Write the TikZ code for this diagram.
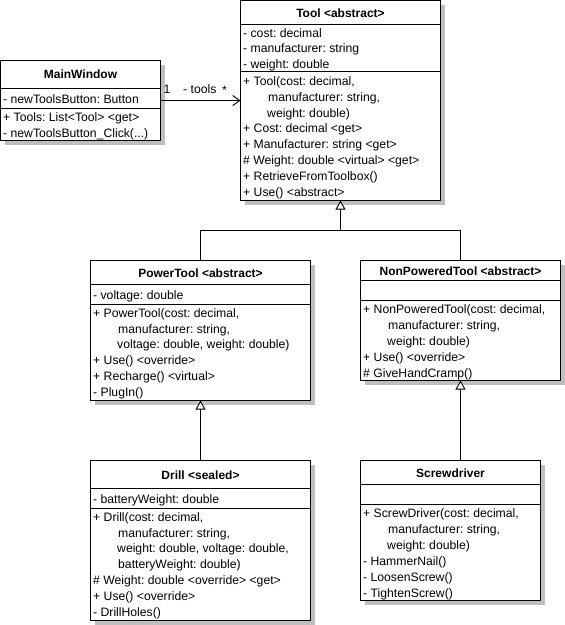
\documentclass[tikz,border=0pt]{standalone}
\usepackage{fontspec}
\setmainfont{Liberation Sans}
\frenchspacing
\usetikzlibrary{arrows.meta,shadows}
\tikzset{
  cls/.style={draw, line width=0.9pt, fill=white, inner sep=0pt, outer sep=0pt,
    drop shadow={shadow xshift=4pt, shadow yshift=-4pt, fill=gray!50, opacity=1}},
  ttl/.style={font=\fontsize{12}{14}\selectfont\bfseries\frenchspacing, inner sep=0pt, anchor=base},
  txt/.style={font=\fontsize{12.2}{14}\selectfont\frenchspacing, inner sep=0pt, anchor=base west},
  sep/.style={line width=0.9pt},
  assoc/.style={line width=0.9pt, -{Straight Barb[length=7pt,width=10pt,line width=0.9pt]}},
  gen/.style={line width=0.9pt, -{Triangle[open,length=9pt,width=10pt,fill=white,line width=0.9pt]}},
}
\begin{document}
\begin{tikzpicture}[x=1pt,y=-1pt]
\useasboundingbox (0,0) rectangle (565,625);

% ---------- boxes ----------
\node[cls, minimum width=160pt, minimum height=80pt]  (mw)   at (80.5,100.5)  {};
\node[cls, minimum width=200pt, minimum height=200pt] (tool) at (340.5,100.5) {};
\node[cls, minimum width=220pt, minimum height=140pt] (pt)   at (200.5,330.5) {};
\node[cls, minimum width=200pt, minimum height=120pt] (npt)  at (460.5,320.5) {};
\node[cls, minimum width=220pt, minimum height=160pt] (dr)   at (200.5,540.5) {};
\node[cls, minimum width=180pt, minimum height=140pt] (sd)   at (450.5,530.5) {};

% ---------- separators ----------
\draw[sep] (mw.west |- 0,88) -- (mw.east |- 0,88);
\draw[sep] (mw.west |- 0,108) -- (mw.east |- 0,108);
\draw[sep] (tool.west |- 0,24) -- (tool.east |- 0,24);
\draw[sep] (tool.west |- 0,71.5) -- (tool.east |- 0,71.5);
\draw[sep] (pt.west |- 0,284.5) -- (pt.east |- 0,284.5);
\draw[sep] (pt.west |- 0,304.5) -- (pt.east |- 0,304.5);
\draw[sep] (npt.west |- 0,280.5) -- (npt.east |- 0,280.5);
\draw[sep] (npt.west |- 0,300.5) -- (npt.east |- 0,300.5);
\draw[sep] (dr.west |- 0,488.5) -- (dr.east |- 0,488.5);
\draw[sep] (dr.west |- 0,508.5) -- (dr.east |- 0,508.5);
\draw[sep] (sd.west |- 0,484.5) -- (sd.east |- 0,484.5);
\draw[sep] (sd.west |- 0,504.5) -- (sd.east |- 0,504.5);

% ---------- titles ----------
\node[ttl] (mwT)   at (80.5,78.5)  {MainWindow};
\node[ttl] (toolT) at (340.5,17)   {Tool <abstract>};
\node[ttl] (ptT)   at (200.5,277)  {PowerTool <abstract>};
\node[ttl] (nptT)  at (460.5,275.5){NonPoweredTool <abstract>};
\node[ttl] (drT)   at (200.5,479.5){Drill <sealed>};
\node[ttl] (sdT)   at (450.5,477)  {Screwdriver};

% ---------- MainWindow ----------
\node[txt] (mwA0) at (3,103.3) {- newToolsButton: Button};
\node[txt] (mwM0) at (3,121.3) {+ Tools: List<Tool> <get>};
\node[txt] (mwM1) at (3,137.2) {- newToolsButton\_Click(...)};

% ---------- Tool ----------
\foreach \t [count=\i from 0] in {{- cost: decimal},{- manufacturer: string},{- weight: double}}
  \node[txt] (toolA\i) at (243,37.3+15.6*\i) {\t};
\foreach \t [count=\i from 0] in {{+ Tool(cost: decimal,},{\hspace*{25pt}manufacturer: string,},{\hspace*{24pt}weight: double)},{+ Cost: decimal <get>},{+ Manufacturer: string <get>},{\# Weight: double <virtual> <get>},{+ RetrieveFromToolbox()},{+ Use() <abstract>}}
  \node[txt] (toolM\i) at (243,85.3+15.86*\i) {\t};

% ---------- PowerTool ----------
\node[txt] (ptA0) at (93,299.3) {- voltage: double};
\foreach \t [count=\i from 0] in {{+ PowerTool(cost: decimal,},{\hspace*{25pt}manufacturer: string,},{\hspace*{24pt}voltage: double, weight: double)},{+ Use() <override>},{+ Recharge() <virtual>},{- PlugIn()}}
  \node[txt] (ptM\i) at (93,317.3+15.8*\i) {\t};

% ---------- NonPoweredTool ----------
\foreach \t [count=\i from 0] in {{+ NonPoweredTool(cost: decimal,},{\hspace*{25pt}manufacturer: string,},{\hspace*{24pt}weight: double)},{+ Use() <override>},{\# GiveHandCramp()}}
  \node[txt] (nptM\i) at (363,313.3+16*\i) {\t};

% ---------- Drill ----------
\node[txt] (drA0) at (93,503) {- batteryWeight: double};
\foreach \t [count=\i from 0] in {{+ Drill(cost: decimal,},{\hspace*{25pt}manufacturer: string,},{\hspace*{24pt}weight: double, voltage: double,},{\hspace*{25pt}batteryWeight: double)},{\# Weight: double <override> <get>},{+ Use() <override>},{- DrillHoles()}}
  \node[txt] (drM\i) at (93,521.3+15.83*\i) {\t};

% ---------- Screwdriver ----------
\foreach \t [count=\i from 0] in {{+ ScrewDriver(cost: decimal,},{\hspace*{25pt}manufacturer: string,},{\hspace*{24pt}weight: double)},{- HammerNail()},{- LoosenScrew()},{- TightenScrew()}}
  \node[txt] (sdM\i) at (363,517.3+16*\i) {\t};

% ---------- association ----------
\draw[assoc] (mw.east) -- (mw.east -| tool.west);
\node[txt] (m1)    at (163.5,93.5) {1};
\node[txt] (mlab)  at (183,93.5)   {- tools};
\node[txt] (mstar) at (222,94.5)   {*};

% ---------- generalizations ----------
\coordinate (j) at (340.5,230.5);
\draw[gen] (j) -- (tool.south);
\draw[line width=0.9pt] (pt.north) |- (j);
\draw[line width=0.9pt] (npt.north) |- (j);
\draw[gen] (dr.north) -- (pt.south);
\draw[gen] (npt.south |- sd.north) -- (npt.south);
\end{tikzpicture}
\end{document}
